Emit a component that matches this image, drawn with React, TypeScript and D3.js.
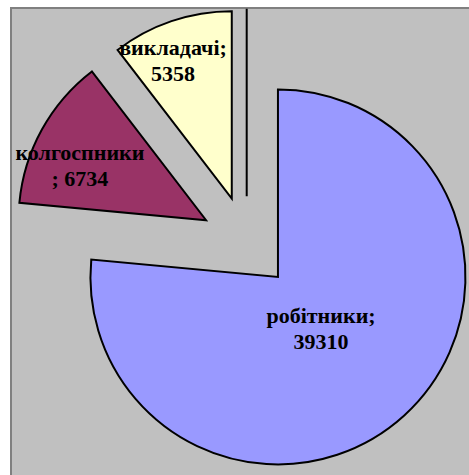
import React from "react";
import * as d3 from "d3";

// ---- data ----
const categories: string[] = ["робітники", "колгоспники", "викладачі", ""];
const values: number[] = [39310, 6734, 5358, 0];
const colors: string[] = ["#9999FF", "#993366", "#FFFFCC", "#C0C0C0"];

// ---- layout ----
const W = 469;
const H = 475;
const CX = 246.7;
const CY = 242.6;
const R = 187.5;
const EXPLODE = 46.4;
// label placement relative to each exploded slice: radius fraction, angle shift (deg)
const labelRadiusFrac = [0.357, 0.734, 0.803, 0];
const labelAngleShift = [2.25, -5.3, -4.2, 0];
const FONT = "'Liberation Serif', 'Times New Roman', serif";
const FONT_SIZE = 22;
const LINE_H = 26;

export default function App() {
  const pie = d3
    .pie<number>()
    .sort(null)
    .value((d) => d)
    .startAngle(0)
    .endAngle(2 * Math.PI);
  const arcs = pie(values);
  const arc = d3.arc<d3.PieArcDatum<number>>().innerRadius(0).outerRadius(R);

  return (
    <svg
      width={W}
      height={H}
      style={{ position: "absolute", left: 0, top: 0, display: "block" }}
    >
      <rect x={0} y={0} width={W} height={H} fill="#FFFFFF" />
      <rect
        x={11}
        y={8}
        width={W + 20}
        height={H + 20}
        fill="#C0C0C0"
        stroke="#808080"
        strokeWidth={2}
      />
      {arcs.map((a, i) => {
        const mid = (a.startAngle + a.endAngle) / 2;
        const ox = Math.sin(mid) * EXPLODE;
        const oy = -Math.cos(mid) * EXPLODE;
        return (
          <g key={i} transform={`translate(${CX + ox},${CY + oy})`}>
            <path
              d={arc(a) || ""}
              fill={colors[i]}
              stroke="#000"
              strokeWidth={2}
              strokeLinejoin="miter"
            />
          </g>
        );
      })}
      {arcs.map((a, i) => {
        if (values[i] === 0) return null;
        const mid = (a.startAngle + a.endAngle) / 2;
        const ox = Math.sin(mid) * EXPLODE;
        const oy = -Math.cos(mid) * EXPLODE;
        const la = mid + (labelAngleShift[i] * Math.PI) / 180;
        const lr = labelRadiusFrac[i] * R;
        const lx = CX + ox + Math.sin(la) * lr;
        const ly = CY + oy - Math.cos(la) * lr;
        const line1 = i === 1 ? categories[i] : categories[i] + ";";
        const line2 = i === 1 ? "; " + values[i] : String(values[i]);
        return (
          <text
            key={"l" + i}
            x={lx}
            y={ly - 5}
            textAnchor="middle"
            fontFamily={FONT}
            fontWeight="bold"
            fontSize={FONT_SIZE}
            fill="#000"
          >
            <tspan x={lx} y={ly - 5}>
              {line1}
            </tspan>
            <tspan x={lx} y={ly - 5 + LINE_H}>
              {line2}
            </tspan>
          </text>
        );
      })}
    </svg>
  );
}
